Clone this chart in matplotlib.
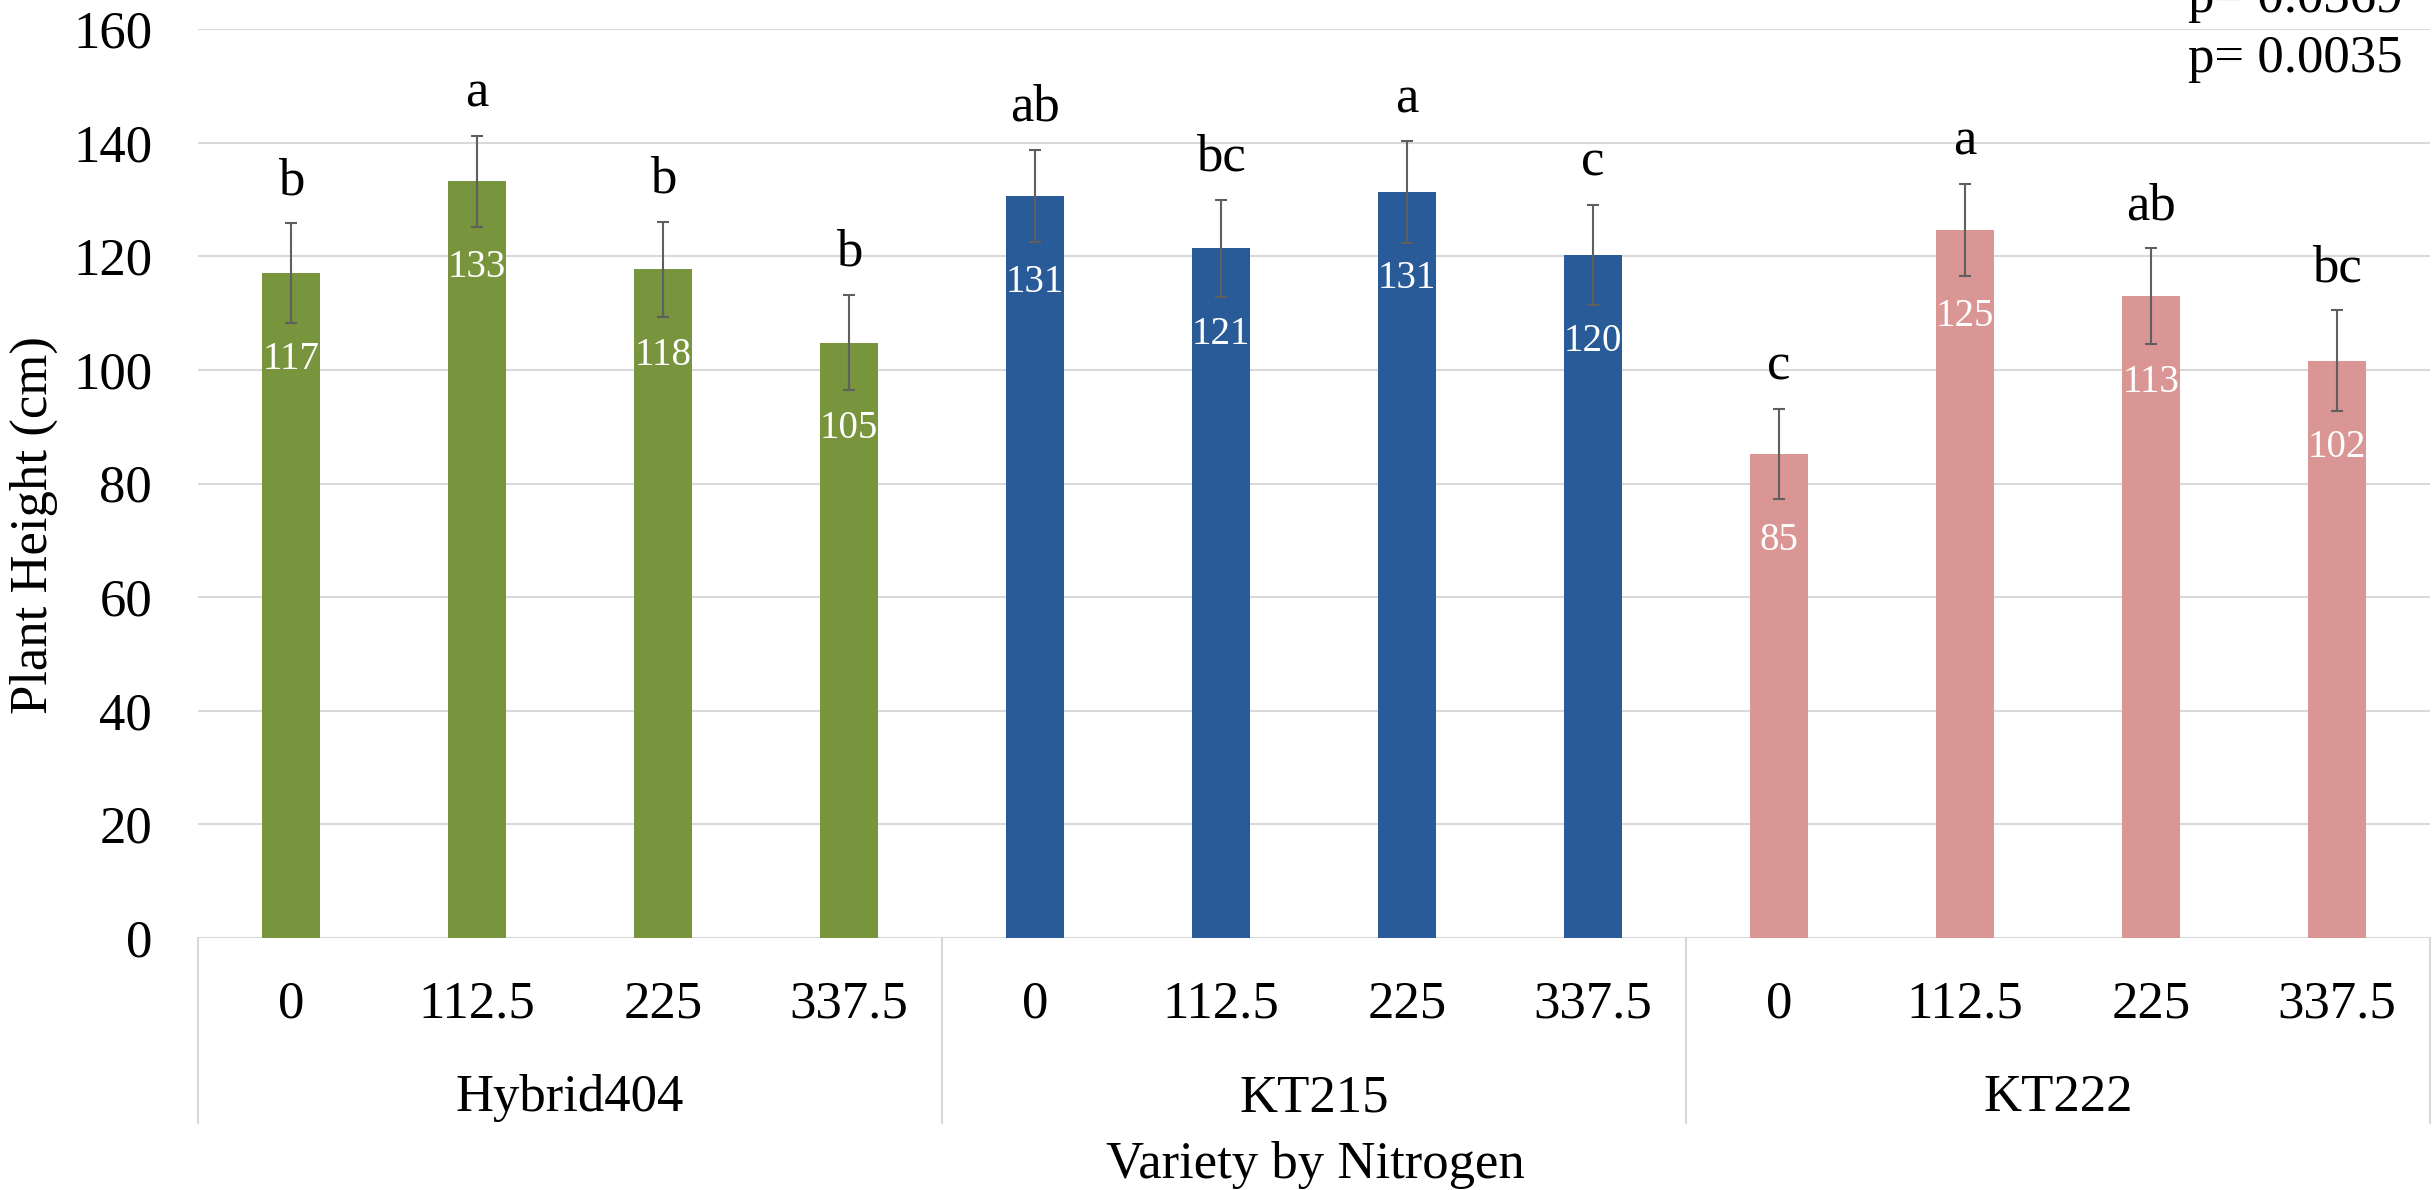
import matplotlib
matplotlib.use("Agg")
import matplotlib.pyplot as plt
import matplotlib.transforms as mtransforms

plt.rcParams['font.family'] = ['Liberation Serif', 'DejaVu Serif']

# Plant height by variety and nitrogen rate
varieties = ["Hybrid404", "KT215", "KT222"]
nitrogen = ["0", "112.5", "225", "337.5"]
hybrid404_mean = [117.0, 133.2, 117.7, 104.8]
kt215_mean = [130.6, 121.4, 131.3, 120.2]
kt222_mean = [85.2, 124.6, 113.0, 101.6]
hybrid404_err = [8.8, 8.0, 8.4, 8.4]
kt215_err = [8.1, 8.5, 8.9, 8.8]
kt222_err = [7.9, 8.1, 8.4, 8.9]
hybrid404_letters = ["b", "a", "b", "b"]
kt215_letters = ["ab", "bc", "a", "c"]
kt222_letters = ["c", "a", "ab", "bc"]
p_values = ["p= 0.0369", "p= 0.0035"]
y_ticks = [0, 20, 40, 60, 80, 100, 120, 140, 160]

colors = {"Hybrid404": "#78943C", "KT215": "#295B98", "KT222": "#D99694"}
means = [hybrid404_mean, kt215_mean, kt222_mean]
errs = [hybrid404_err, kt215_err, kt222_err]
letters = [hybrid404_letters, kt215_letters, kt222_letters]

W, H, DPI = 2435, 1190, 100
fig = plt.figure(figsize=(W / DPI, H / DPI), dpi=DPI)
ax = fig.add_axes([198 / W, 1 - 938 / H, (2430 - 198) / W, (938 - 29) / H])

grid_color = "#D9D9D9"
n_per = len(nitrogen)
for g, var in enumerate(varieties):
    xs = [g * n_per + i for i in range(n_per)]
    ax.bar(xs, means[g], width=0.317, color=colors[var], zorder=2)
    ax.errorbar(xs, means[g], yerr=errs[g], fmt='none', ecolor='#5F5F5F',
                elinewidth=1.5, capsize=4.5, capthick=1.5, zorder=3)
    for x, m, e, lt in zip(xs, means[g], errs[g], letters[g]):
        ax.annotate(lt, (x, m + e), xytext=(0, 21), textcoords='offset points',
                    ha='center', va='baseline', fontsize=38, color='black', zorder=4)
        ax.annotate(f"{m:.0f}", (x, m), xytext=(0, -69), textcoords='offset points',
                    ha='center', va='baseline', fontsize=28, color='white', zorder=4)

ax.set_xlim(-0.5, len(varieties) * n_per - 0.5)
ax.set_ylim(0, 160)
ax.set_yticks(y_ticks)
ax.set_yticklabels([str(t) for t in y_ticks], fontsize=38)
ax.tick_params(axis='y', length=0, pad=33)
ax.set_xticks([])
ax.yaxis.grid(True, color=grid_color, linewidth=1.5, zorder=0)
ax.set_axisbelow(True)
for s in ax.spines.values():
    s.set_visible(False)

# Two-level category axis
trans = mtransforms.blended_transform_factory(ax.transData, ax.transAxes)
ax_h = 938 - 29
y_bottom = -(1123 - 938) / ax_h
y_tick_base = -(1018 - 938) / ax_h
y_group_base = -(1111 - 938) / ax_h
for g in range(len(varieties) + 1):
    xb = g * n_per - 0.5
    ax.plot([xb, xb], [0, y_bottom], color=grid_color, linewidth=1.5,
            transform=trans, clip_on=False)
for g, var in enumerate(varieties):
    for i, lab in enumerate(nitrogen):
        ax.text(g * n_per + i, y_tick_base, lab, transform=trans, ha='center',
                va='baseline', fontsize=38)
    ax.text(g * n_per + (n_per - 1) / 2, y_group_base, var, transform=trans,
            ha='center', va='baseline', fontsize=38)

fig.text(34 / W, 1 - 525 / H, "Plant Height (cm)", rotation=90, ha='center',
         va='center', fontsize=38)
fig.text(1315 / W, 1 - 1178 / H, "Variety by Nitrogen", ha='center',
         va='baseline', fontsize=38)
fig.text(2403 / W, 1 - 12 / H, p_values[0], ha='right', va='baseline', fontsize=38)
fig.text(2403 / W, 1 - 72 / H, p_values[1], ha='right', va='baseline', fontsize=38)

fig.savefig("out.png", dpi=DPI, facecolor='white')
